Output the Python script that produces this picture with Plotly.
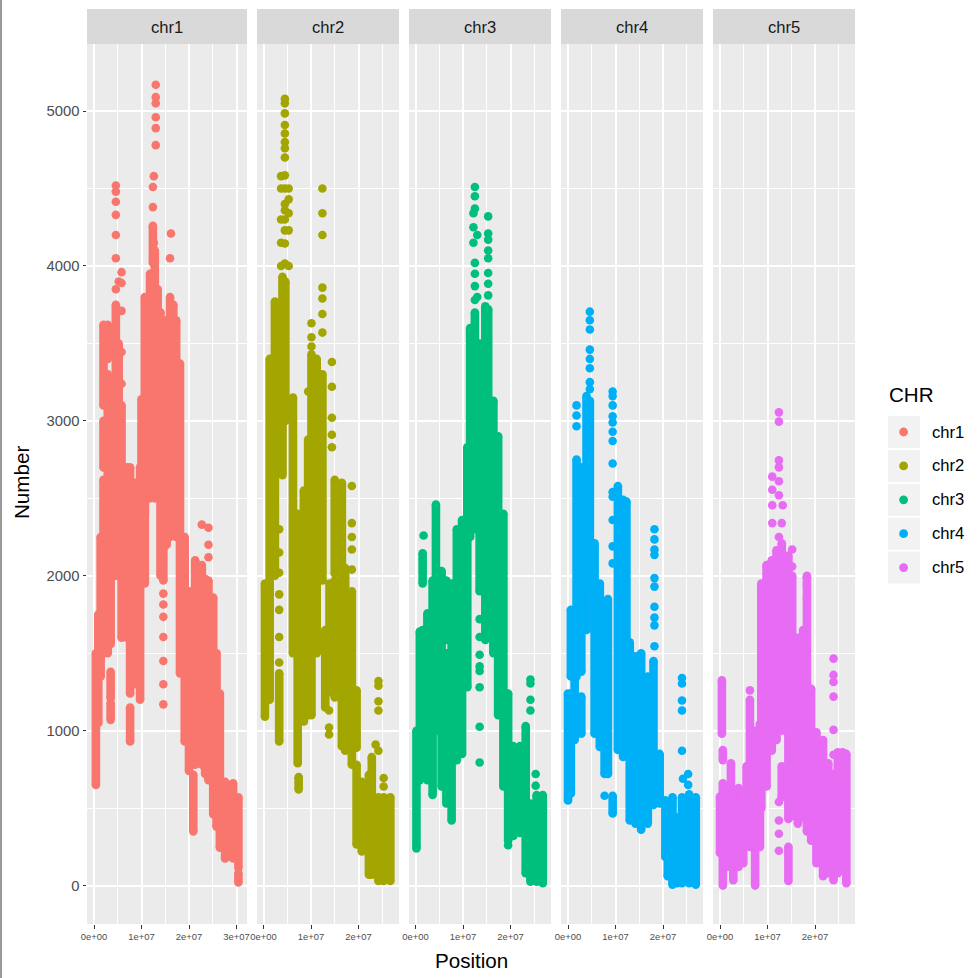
import plotly.graph_objects as go

CHR = ["chr1", "chr2", "chr3", "chr4", "chr5"]
COLORS = ["#F8766D", "#A3A500", "#00BF7D", "#00B0F6", "#E76BF3"]
MB = 1e6

# Vertical runs of overlapping points: position (Mb), lowest, highest value
chr1_pos = [0.4,0.9,1.4,2.0,2.0,2.0,2.9,2.9,3.5,3.5,3.5,4.6,5.2,5.8,6.9,7.6,7.6,8.6,9.7,10.0,10.7,10.7,11.8,12.4,12.8,13.4,14.0,14.6,15.3,16.0,16.7,17.3,18.1,19.1,20.0,20.9,21.3,22.0,22.7,23.4,24.1,25.1,25.8,26.5,27.6,28.5,29.3,30.4,30.4]
chr1_low = [650,1050,1350,1500,2700,3100,1500,3400,1070,1210,1560,2000,2050,1600,1600,930,1240,1300,1200,2600,1950,2400,2500,4020,2500,2600,2000,1970,2200,2250,2300,2250,1370,930,740,350,780,850,780,720,680,460,380,245,175,190,175,115,20]
chr1_high = [1500,1750,2250,2620,3000,3620,3300,3620,1180,1380,2600,3750,3500,3100,2700,1150,2700,2600,2700,3140,2900,3800,3950,4250,4100,3850,3700,2400,3650,3800,3750,3650,3370,2250,1900,715,2100,1950,2070,1980,1970,1860,1500,1240,670,650,660,570,80]
chr1_pt_pos = [4.6,4.6,4.6,4.6,4.6,4.6,4.6,5.2,5.8,5.8,5.8,5.8,5.8,12.4,12.4,12.4,12.6,12.6,13.0,13.0,13.0,13.0,13.0,13.0,14.6,14.6,14.6,14.6,14.6,14.6,14.6,16.0,16.2,22.7,24.1,24.1,24.1]
chr1_pt_val = [4520,4480,4415,4330,4200,4050,3850,3900,3960,3890,3710,3445,3240,4510,4380,4260,4580,4150,5170,5090,5050,4960,4890,4780,1885,1815,1735,1605,1450,1300,1170,4050,4210,2330,2310,2200,2120]

chr2_pos = [0.3,1.3,2.4,3.3,4.0,4.6,6.2,7.2,7.4,8.5,9.4,10.1,10.1,11.2,12.4,13.0,13.9,15.0,15.0,16.5,17.2,18.6,18.6,19.6,19.6,20.7,22.2,22.8,24.2,25.3,26.7]
chr2_low = [1090,1200,2000,930,2650,3000,1500,790,620,1060,1100,1100,2580,1500,1970,1150,1250,1215,2015,900,870,780,1130,890,265,220,70,70,30,30,30]
chr2_high = [1950,3400,3770,1370,3930,3900,3150,2400,700,2550,2880,2600,3430,3400,3300,1650,1950,1970,2620,2600,2050,1100,1900,1260,780,670,715,830,570,570,570]
chr2_pt_pos = [3.3,3.3,3.3,3.3,3.3,3.3,3.3,4.5,4.5,4.5,4.5,4.5,4.5,4.5,4.5,4.5,4.5,4.5,4.5,4.5,4.5,4.5,4.5,3.7,3.7,3.7,3.7,3.7,5.3,5.3,5.3,5.3,5.3,9.4,10.1,10.1,10.1,12.4,12.4,12.4,12.4,12.4,12.4,12.4,14.4,14.4,14.4,14.4,14.4,13.8,13.8,13.8,18.6,18.6,18.6,18.6,18.6,23.6,25.3,25.3,24.2,24.2,24.2,24.2,24.2]
chr2_pt_val = [2300,2150,2020,1880,1780,1605,1440,4015,4145,4230,4300,4360,4400,4500,4585,4700,4760,4800,4855,4910,4985,5050,5080,4580,4500,4300,4150,4000,4500,4430,4340,4230,4000,3190,3630,3540,3480,4500,4340,4200,3860,3790,3690,3570,3380,3220,3020,2910,2830,1130,1020,975,2580,2340,2250,2170,2040,910,695,640,1320,1290,1190,1130,870]

chr3_pos = [0.2,0.9,1.5,1.5,2.5,3.6,4.3,5.5,6.5,6.5,7.6,8.7,9.8,10.9,11.5,12.5,13.5,14.7,15.3,16.4,17.4,18.5,19.5,20.6,22.0,23.2,24.2,25.5,26.8]
chr3_low = [240,680,725,1950,680,585,1000,640,530,1585,420,810,850,1280,2250,2300,1900,1585,1650,1500,1100,640,290,320,340,80,25,25,15]
chr3_high = [1000,1640,1650,2145,1757,1970,2460,2030,1500,1970,1950,2300,2360,2830,3600,3700,3500,3740,3720,3130,2900,2400,1240,900,900,1030,530,585,585]
chr3_pt_pos = [1.7,12.5,12.5,12.5,12.2,12.2,12.2,12.5,12.5,12.5,12.5,13.0,13.0,13.5,13.5,13.5,13.5,13.5,13.5,13.5,13.5,15.3,15.3,15.3,15.3,15.3,15.3,15.3,15.3,19.5,24.2,24.2,24.2,24.2,25.3,25.3]
chr3_pt_val = [2260,4510,4450,4370,4340,4250,4150,4020,3950,3870,3780,4200,3800,1720,1605,1490,1415,1385,1280,1025,795,4320,4210,4170,4100,4050,3955,3885,3810,260,1330,1305,1200,1130,720,645]

chr4_pos = [0.0,0.6,0.6,1.4,1.8,2.8,2.8,3.9,4.6,5.6,6.7,7.7,8.4,9.4,10.5,11.6,12.3,13.0,14.2,15.4,16.8,18.0,19.3,20.5,21.0,22.0,23.0,24.0,25.5,26.9]
chr4_low = [550,1350,595,940,1350,980,1380,1650,1900,980,895,720,720,465,875,830,900,420,400,360,400,520,530,185,60,5,15,15,15,5]
chr4_high = [1240,1780,1240,1780,2750,1220,2700,3160,3130,2210,1950,1770,1850,580,2580,2490,2480,1570,1480,1500,1350,1450,850,550,410,570,440,570,590,570]
chr4_pt_pos = [1.8,1.8,1.8,4.6,4.6,4.6,4.6,4.6,4.6,4.6,4.6,9.4,9.4,9.4,9.4,9.4,9.4,9.4,9.4,9.4,9.4,9.4,9.4,9.4,18.2,18.2,18.2,18.2,18.2,18.2,18.2,18.2,18.2,18.2,24.0,24.0,24.0,24.0,24.0,24.2,25.3,25.3,7.7]
chr4_pt_val = [3100,3035,2965,3705,3650,3590,3460,3400,3340,3250,3205,3190,3160,3100,3030,2990,2930,2870,2725,2540,2510,2360,2190,2080,2300,2235,2170,2135,1985,1930,1800,1730,1680,1545,1340,1305,1195,1130,870,690,720,650,580]

chr5_pos = [0.0,0.4,0.6,0.6,1.4,2.3,2.8,3.9,4.9,5.6,6.3,7.4,8.4,8.7,9.8,10.9,11.9,13.0,13.0,14.4,14.4,15.2,16.4,17.5,18.3,19.2,20.3,21.7,22.8,23.9,24.8,25.8,26.6]
chr5_low = [210,980,0,810,120,120,35,120,145,295,250,0,250,500,640,870,940,1000,570,430,30,450,400,440,350,290,145,60,80,35,80,145,15]
chr5_high = [575,1325,660,875,595,790,575,630,550,770,1200,1000,1045,1950,2070,2100,2165,2210,770,2130,250,2000,1600,1650,2000,1270,990,940,790,720,860,860,850]
chr5_pt_pos = [12.4,12.4,12.4,12.4,11.0,12.4,11.0,12.4,11.0,13.2,11.0,13.0,12.4,12.4,12.4,12.4,15.2,15.2,18.3,18.3,18.3,23.9,23.9,23.9,23.9,23.9,23.9,6.3,12.4]
chr5_pt_val = [3055,2995,2745,2700,2640,2610,2555,2520,2455,2455,2340,2340,540,420,335,225,2170,2060,1990,1940,1850,1465,1360,1315,1220,1005,845,1260,2250]

Y_TICKS = [0, 1000, 2000, 3000, 4000, 5000]
Y_MINOR = [500, 1500, 2500, 3500, 4500]
X_TICKS = [[0, 1e7, 2e7, 3e7], [0, 1e7, 2e7], [0, 1e7, 2e7], [0, 1e7, 2e7], [0, 1e7, 2e7]]
X_LABELS = [["0e+00", "1e+07", "2e+07", "3e+07"], ["0e+00", "1e+07", "2e+07"], ["0e+00", "1e+07", "2e+07"], ["0e+00", "1e+07", "2e+07"], ["0e+00", "1e+07", "2e+07"]]
X_MINOR = [[5e6, 1.5e7, 2.5e7], [5e6, 1.5e7, 2.5e7], [5e6, 1.5e7, 2.5e7], [5e6, 1.5e7, 2.5e7], [5e6, 1.5e7, 2.5e7]]

RUNS = [(chr1_pos, chr1_low, chr1_high, chr1_pt_pos, chr1_pt_val),
        (chr2_pos, chr2_low, chr2_high, chr2_pt_pos, chr2_pt_val),
        (chr3_pos, chr3_low, chr3_high, chr3_pt_pos, chr3_pt_val),
        (chr4_pos, chr4_low, chr4_high, chr4_pt_pos, chr4_pt_val),
        (chr5_pos, chr5_low, chr5_high, chr5_pt_pos, chr5_pt_val)]

W = 978.0
PANELS = [(87, 247, 94), (257, 399, 263.5), (409, 551, 415.5), (561, 703, 568), (713, 855, 720)]
PX_PER_UNIT = 4.75e-6
TOP, BOTTOM = 44, 924
YRANGE = [-248, 5433]
DOT = 8.6
FONT = "Liberation Sans"

def fx(p):
    return p / W
def fy(p):
    return 1 - p / W

fig = go.Figure()
shapes, annotations = [], []
layout = {}
for i, name in enumerate(CHR):
    s = "" if i == 0 else str(i + 1)
    left, right, zero = PANELS[i]
    pos, low, high, pt_pos, pt_val = RUNS[i]
    xs, ys = [], []
    for p, a, b in zip(pos, low, high):
        xs += [p * MB, p * MB, None]
        ys += [a, b, None]
    fig.add_trace(go.Scatter(x=xs, y=ys, mode="lines+markers", name=name, showlegend=False,
                             line=dict(color=COLORS[i], width=DOT),
                             marker=dict(color=COLORS[i], size=DOT, line=dict(width=0)),
                             xaxis="x" + s, yaxis="y" + s, connectgaps=False))
    fig.add_trace(go.Scatter(x=[p * MB for p in pt_pos], y=pt_val, mode="markers", name=name, showlegend=False,
                             marker=dict(color=COLORS[i], size=DOT, line=dict(width=0)),
                             xaxis="x" + s, yaxis="y" + s))
    layout["xaxis" + s] = dict(domain=[fx(left), fx(right)], anchor="y" + s, automargin=False,
                               range=[(left - zero) / PX_PER_UNIT, (right - zero) / PX_PER_UNIT],
                               tickmode="array", tickvals=X_TICKS[i], ticktext=X_LABELS[i], tickangle=0,
                               tickfont=dict(size=9.4, color="#4D4D4D", family=FONT),
                               ticks="outside", ticklen=3.5, tickwidth=1, tickcolor="#333333",
                               showgrid=True, gridcolor="#FFFFFF", gridwidth=1.5,
                               minor=dict(tickmode="array", tickvals=X_MINOR[i], showgrid=True,
                                          gridcolor="#FFFFFF", gridwidth=0.75, ticks=""),
                               zeroline=False, showline=False)
    layout["yaxis" + s] = dict(domain=[fy(BOTTOM), fy(TOP)], anchor="x" + s, range=YRANGE, automargin=False,
                               tickmode="array", tickvals=Y_TICKS,
                               ticktext=[str(t) for t in Y_TICKS] if i == 0 else [""] * len(Y_TICKS),
                               tickfont=dict(size=14.8, color="#4D4D4D", family=FONT),
                               ticks="outside" if i == 0 else "", ticklen=3.5, tickwidth=1, tickcolor="#333333",
                               showgrid=True, gridcolor="#FFFFFF", gridwidth=1.5,
                               minor=dict(tickmode="array", tickvals=Y_MINOR, showgrid=True,
                                          gridcolor="#FFFFFF", gridwidth=0.75, ticks=""),
                               zeroline=False, showline=False)
    shapes.append(dict(type="rect", xref="paper", yref="paper", x0=fx(left), x1=fx(right),
                       y0=fy(44), y1=fy(9), fillcolor="#D9D9D9", line=dict(width=0)))
    annotations.append(dict(text=name, xref="paper", yref="paper", x=fx((left + right) / 2), y=fy(27.5),
                            xanchor="center", yanchor="middle", showarrow=False,
                            font=dict(size=16.6, color="#1A1A1A", family=FONT)))
    # legend key
    key_top = 416 + 33.9 * i
    shapes.append(dict(type="rect", xref="paper", yref="paper", x0=fx(888), x1=fx(920),
                       y0=fy(key_top + 32), y1=fy(key_top), fillcolor="#F2F2F2", line=dict(width=0)))
    cy = key_top + 16
    shapes.append(dict(type="circle", xref="paper", yref="paper", x0=fx(899.2), x1=fx(908),
                       y0=fy(cy + 4.4), y1=fy(cy - 4.4), fillcolor=COLORS[i], line=dict(width=0)))
    annotations.append(dict(text=name, xref="paper", yref="paper", x=fx(930), y=fy(cy),
                            xanchor="left", yanchor="middle", showarrow=False,
                            font=dict(size=16.6, color="#000000", family=FONT)))

annotations += [
    dict(text="CHR", xref="paper", yref="paper", x=fx(886.5), y=fy(395), xanchor="left", yanchor="middle",
         showarrow=False, font=dict(size=20.6, color="#000000", family=FONT)),
    dict(text="Position", xref="paper", yref="paper", x=fx(471), y=fy(960), xanchor="center", yanchor="middle",
         showarrow=False, font=dict(size=20.6, color="#000000", family=FONT)),
    dict(text="Number", xref="paper", yref="paper", x=fx(21), y=fy(483), xanchor="center", yanchor="middle",
         textangle=-90, showarrow=False, font=dict(size=20.6, color="#000000", family=FONT)),
]
shapes.append(dict(type="rect", xref="paper", yref="paper", x0=0, x1=fx(2), y0=0, y1=1,
                   fillcolor="#999999", line=dict(width=0)))

fig.update_layout(width=978, height=978, margin=dict(l=0, r=0, t=0, b=0), autosize=False,
                  paper_bgcolor="#FFFFFF", plot_bgcolor="#EBEBEB", showlegend=False,
                  shapes=shapes, annotations=annotations, **layout)
fig.write_html("out.html", config={"displayModeBar": False},
               post_script="document.body.style.margin='0';document.body.style.overflow='hidden';")
